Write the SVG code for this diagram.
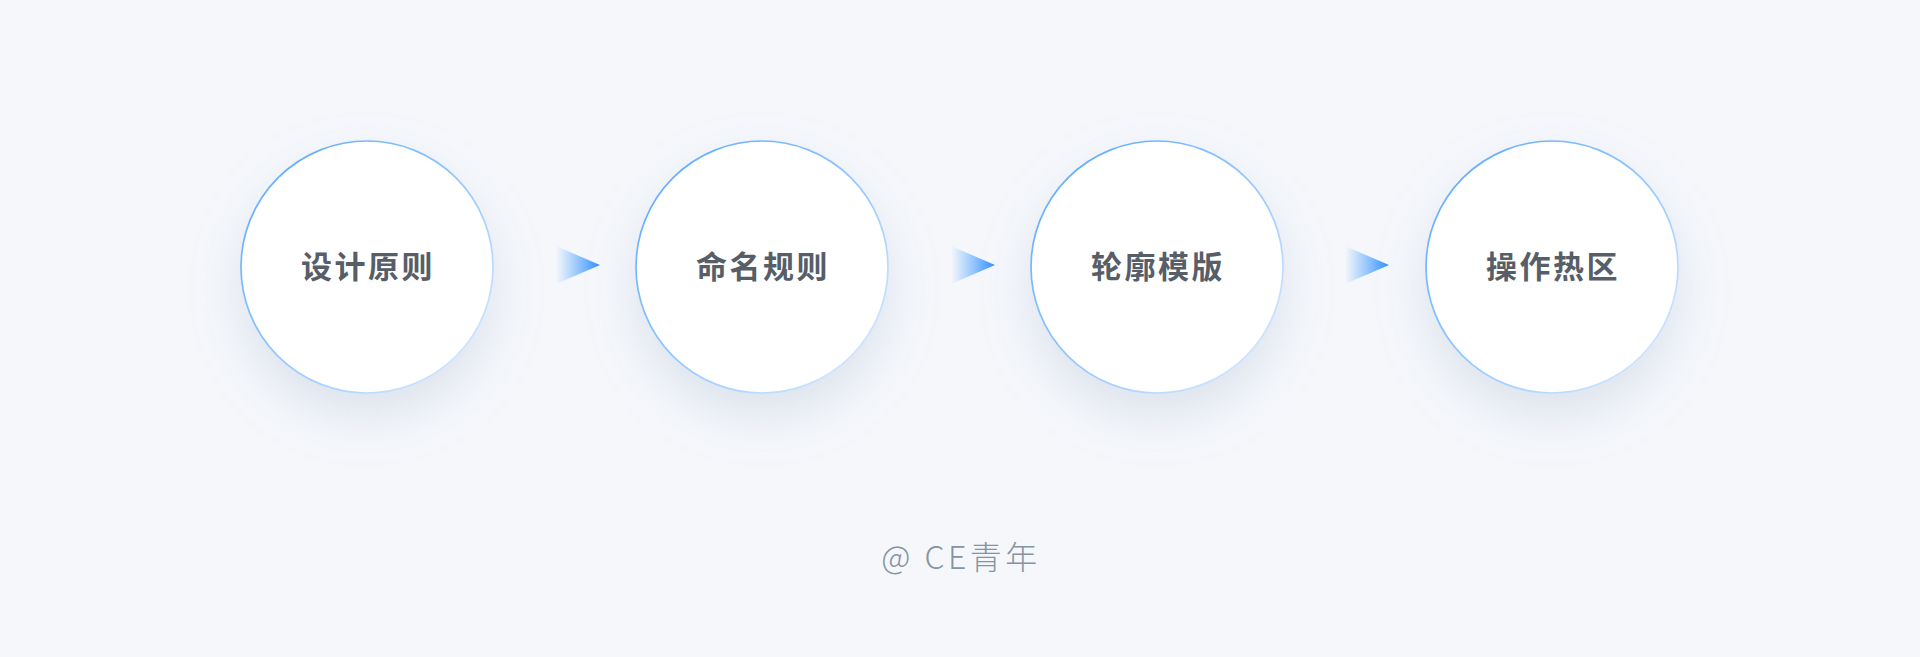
<svg xmlns="http://www.w3.org/2000/svg" width="1920" height="657" viewBox="0 0 1920 657">
<style>
.label{font-family:"Noto Sans CJK SC","Noto Sans",sans-serif;font-size:31px;font-weight:700;fill:#575e68;text-anchor:middle;letter-spacing:2.5px}
.foot{font-family:"Noto Sans CJK SC","Noto Sans",sans-serif;font-size:32px;font-weight:300;fill:#8594a3;text-anchor:middle;letter-spacing:3.5px}
.node circle{fill:#ffffff;stroke:url(#ring);stroke-width:1.7}
.arrow{fill:url(#arr)}
</style>
<defs>
<linearGradient id="ring" x1="0" y1="0" x2="1" y2="1">
<stop offset="0" stop-color="#55a7ff"/>
<stop offset="0.55" stop-color="#99cbff"/>
<stop offset="1" stop-color="#e2efff"/>
</linearGradient>
<linearGradient id="arr" x1="0" y1="0" x2="1" y2="0">
<stop offset="0" stop-color="#3d9bff" stop-opacity="0"/>
<stop offset="1" stop-color="#2f8fff"/>
</linearGradient>
<filter id="sh" x="-50%" y="-50%" width="200%" height="200%">
<feDropShadow dx="0" dy="22" stdDeviation="24" flood-color="#a9b8cf" flood-opacity="0.32"/>
</filter>
</defs>
<rect width="1920" height="657" fill="#f5f7fb"/>
<g id="node1" class="node"><circle cx="367" cy="267" r="126" filter="url(#sh)"/><text class="label" x="368" y="278">设计原则</text></g>
<g id="node2" class="node"><circle cx="762" cy="267" r="126" filter="url(#sh)"/><text class="label" x="763" y="278">命名规则</text></g>
<g id="node3" class="node"><circle cx="1157" cy="267" r="126" filter="url(#sh)"/><text class="label" x="1158" y="278">轮廓模版</text></g>
<g id="node4" class="node"><circle cx="1552" cy="267" r="126" filter="url(#sh)"/><text class="label" x="1553" y="278">操作热区</text></g>
<g id="connectors">
<polygon class="arrow" points="556,246 600,265 556,284"/>
<polygon class="arrow" points="951,246 995,265 951,284"/>
<polygon class="arrow" points="1345,246 1389,265 1345,284"/>
</g>
<text class="foot" x="961" y="569">@ CE青年</text>
</svg>
